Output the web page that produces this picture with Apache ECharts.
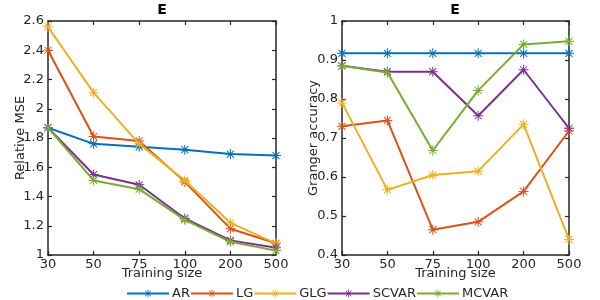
<!DOCTYPE html>
<html>
<head>
<meta charset="utf-8">
<script src="https://cdn.jsdelivr.net/npm/echarts@6/dist/echarts.min.js"></script>
<style>html,body{margin:0;padding:0;background:#fff}#c{width:600px;height:300px}</style>
</head>
<body>
<div id="c"></div>
<script>
const categories = ['30', '50', '75', '100', '200', '500'];
const seriesNames = ['AR', 'LG', 'GLG', 'SCVAR', 'MCVAR'];
const colors = ['#0072BD', '#D95319', '#EDB120', '#7E2F8E', '#77AC30'];

// Left: Relative MSE
const mseAR    = [1.87, 1.76, 1.74, 1.72, 1.69, 1.68];
const mseLG    = [2.40, 1.81, 1.78, 1.50, 1.18, 1.08];
const mseGLG   = [2.56, 2.11, 1.76, 1.51, 1.22, 1.08];
const mseSCVAR = [1.87, 1.55, 1.48, 1.25, 1.10, 1.05];
const mseMCVAR = [1.87, 1.51, 1.45, 1.24, 1.09, 1.03];

// Right: Granger accuracy
const accAR    = [0.917, 0.917, 0.917, 0.917, 0.917, 0.917];
const accLG    = [0.730, 0.745, 0.465, 0.485, 0.563, 0.718];
const accGLG   = [0.790, 0.567, 0.605, 0.615, 0.735, 0.440];
const accSCVAR = [0.885, 0.870, 0.870, 0.757, 0.875, 0.725];
const accMCVAR = [0.885, 0.868, 0.668, 0.822, 0.940, 0.948];

const mseData = [mseAR, mseLG, mseGLG, mseSCVAR, mseMCVAR];
const accData = [accAR, accLG, accGLG, accSCVAR, accMCVAR];

const STAR = 'path://M0,4.5L10,4.5L10,5.5L0,5.5Z M4.5,0L5.5,0L5.5,10L4.5,10Z M1.15,1.85L1.85,1.15L8.85,8.15L8.15,8.85Z M8.15,1.15L8.85,1.85L1.85,8.85L1.15,8.15Z';

const FONT = 'DejaVu Sans';
const TXT = '#262626';
const axLine = {show: true, lineStyle: {color: TXT, width: 1.5}};

function xAx(gi, top) {
  return {
    type: 'category', gridIndex: gi, data: categories, boundaryGap: false,
    position: top ? 'top' : 'bottom',
    axisLine: axLine,
    axisTick: {show: true, inside: true, length: 4, lineStyle: {color: TXT, width: 1.2}},
    axisLabel: {show: !top, color: TXT, fontFamily: FONT, fontSize: 13, margin: 3},
    splitLine: {show: false},
    name: top ? '' : 'Training size', nameLocation: 'middle', nameGap: 12,
    nameMoveOverlap: false,
    nameTextStyle: {color: TXT, fontFamily: FONT, fontSize: 13}
  };
}
function yAx(gi, right, min, max, interval, name, gap) {
  return {
    type: 'value', gridIndex: gi, min: min, max: max, interval: interval,
    position: right ? 'right' : 'left',
    axisLine: axLine,
    axisTick: {show: true, inside: true, length: 4, lineStyle: {color: TXT, width: 1.2}},
    axisLabel: {show: !right, color: TXT, fontFamily: FONT, fontSize: 13, margin: 4},
    splitLine: {show: false},
    name: right ? '' : name, nameLocation: 'middle', nameGap: gap || 20,
    nameMoveOverlap: false,
    nameTextStyle: {color: TXT, fontFamily: FONT, fontSize: 13}
  };
}

const series = [];
[mseData, accData].forEach((dataset, gi) => {
  dataset.forEach((vals, i) => {
    series.push({
      name: seriesNames[i], type: 'line', xAxisIndex: gi * 2, yAxisIndex: gi * 2,
      data: vals, symbol: STAR, symbolSize: 10, showSymbol: true,
      lineStyle: {width: 2, color: colors[i]},
      itemStyle: {color: colors[i]},
      emphasis: {disabled: true}, animation: false, z: 2 + i
    });
  });
});

const chart = echarts.init(document.getElementById('c'), null, {renderer: 'canvas'});
chart.setOption({
  animation: false,
  color: colors,
  textStyle: {fontFamily: FONT},
  title: [
    {text: 'E', left: 162, top: 3, padding: 0, textAlign: 'center', textStyle: {fontFamily: FONT, fontSize: 14, fontWeight: 'bold', color: '#000'}},
    {text: 'E', left: 455, top: 3, padding: 0, textAlign: 'center', textStyle: {fontFamily: FONT, fontSize: 14, fontWeight: 'bold', color: '#000'}}
  ],
  grid: [
    {left: 48, top: 21, width: 228, height: 234, containLabel: false},
    {left: 342, top: 21, width: 227, height: 234, containLabel: false}
  ],
  xAxis: [xAx(0, false), xAx(0, true), xAx(1, false), xAx(1, true)],
  yAxis: [yAx(0, false, 1, 2.6, 0.2, 'Relative MSE', 21), yAx(0, true, 1, 2.6, 0.2, ''),
          yAx(1, false, 0.4, 1, 0.1, 'Granger accuracy', 22), yAx(1, true, 0.4, 1, 0.1, '')],
  legend: {
    data: seriesNames, left: 121, top: 282, orient: 'horizontal',
    itemWidth: 42, itemHeight: 10, itemGap: 0,
    textStyle: {color: TXT, fontFamily: FONT, fontSize: 13, padding: [0, 0, 0, -2]}
  },
  series: series
});
</script>
</body>
</html>
